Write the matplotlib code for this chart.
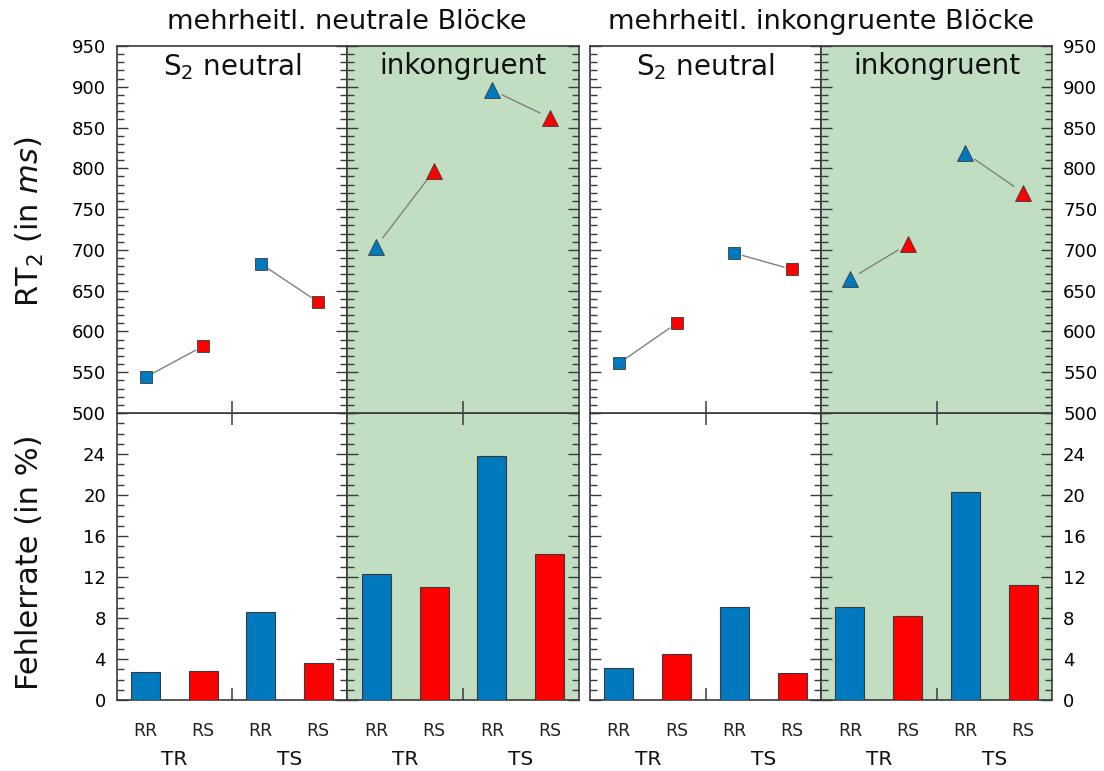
import matplotlib
matplotlib.use("Agg")
import matplotlib.pyplot as plt
from matplotlib.ticker import MultipleLocator

# categories (x order inside each panel)
conditions = ["RR", "RS", "RR", "RS"]
switch_labels = ["TR", "TS"]
block_titles = ["mehrheitl. neutrale Blöcke", "mehrheitl. inkongruente Blöcke"]
panel_titles = ["S$_2$ neutral", "inkongruent"]

# RT2 in ms, order: TR-RR, TR-RS, TS-RR, TS-RS
rt_neutral_neutral = [544, 582, 683, 636]
rt_neutral_incong = [704, 797, 896, 862]
rt_incong_neutral = [561, 610, 696, 676]
rt_incong_incong = [664, 707, 819, 770]

# error rates in %
err_neutral_neutral = [2.7, 2.85, 8.55, 3.6]
err_neutral_incong = [12.3, 11.0, 23.8, 14.2]
err_incong_neutral = [3.1, 4.45, 9.1, 2.6]
err_incong_incong = [9.05, 8.2, 20.3, 11.25]

rt_data = [[rt_neutral_neutral, rt_neutral_incong],
           [rt_incong_neutral, rt_incong_incong]]
err_data = [[err_neutral_neutral, err_neutral_incong],
            [err_incong_neutral, err_incong_incong]]

BLUE = "#0079bf"
RED = "#ff0000"
GREEN = "#c2dec2"
EDGE = "#3a3a3a"
GRAY = "#808080"

fig = plt.figure(figsize=(11.04, 7.71), dpi=100)
W, H = 1104.0, 771.0

# panel edges in pixels
x_edges = [(117, 347), (347, 579), (590, 821), (821, 1052)]
y_top, y_mid, y_bot = 46, 413, 700

xs = [0.5, 1.5, 2.5, 3.5]
colors = [BLUE, RED, BLUE, RED]

for g in range(2):
    for p in range(2):
        x0, x1 = x_edges[2 * g + p]
        face = "white" if p == 0 else GREEN
        marker = "s" if p == 0 else "^"
        msize = 8 if p == 0 else 11
        shrink = 6 if p == 0 else 8

        # RT panel
        ax = fig.add_axes([x0 / W, 1 - y_mid / H, (x1 - x0) / W, (y_mid - y_top) / H],
                          facecolor=face, zorder=3)
        vals = rt_data[g][p]
        for a, b in [(0, 1), (2, 3)]:
            ax.annotate("", xy=(xs[b], vals[b]), xytext=(xs[a], vals[a]),
                        arrowprops=dict(arrowstyle="-", color=GRAY, lw=1.0,
                                        shrinkA=shrink, shrinkB=shrink))
        for x, v, c in zip(xs, vals, colors):
            ax.plot(x, v, marker=marker, ms=msize, color=c, mec=EDGE, mew=0.6,
                    linestyle="none", zorder=4)
        ax.set_xlim(0, 4)
        ax.set_ylim(500, 950)
        ax.yaxis.set_major_locator(MultipleLocator(50))
        ax.yaxis.set_minor_locator(MultipleLocator(10))
        ax.set_xticks([2])
        ax.set_xticklabels([])
        ax.tick_params(axis="x", which="major", direction="inout", length=17,
                       width=1.1, color=EDGE)
        ax.tick_params(axis="y", which="both", direction="in", left=True, right=True,
                       labelleft=(g == 0 and p == 0), labelright=(g == 1 and p == 1),
                       labelsize=13, pad=8, color=EDGE, width=1.0)
        ax.tick_params(axis="y", which="major", length=8)
        ax.tick_params(axis="y", which="minor", length=5)
        for s in ax.spines.values():
            s.set_color(EDGE)
            s.set_linewidth(1.2)
        ax.text(0.5, 0.945, panel_titles[p], transform=ax.transAxes,
                ha="center", va="center", fontsize=20, color="#111111")
        if p == 0:
            ax.text(1.0, 1.03, block_titles[g], transform=ax.transAxes,
                    ha="center", va="bottom", fontsize=19.5, color="#111111")

        # error panel
        ax2 = fig.add_axes([x0 / W, 1 - y_bot / H, (x1 - x0) / W, (y_bot - y_mid) / H],
                           facecolor=face, zorder=2)
        ax2.bar(xs, err_data[g][p], width=0.5, color=colors, edgecolor=EDGE,
                linewidth=0.8, zorder=3)
        ax2.set_xlim(0, 4)
        ax2.set_ylim(0, 28)
        ax2.set_yticks([0, 4, 8, 12, 16, 20, 24])
        ax2.yaxis.set_minor_locator(MultipleLocator(1))
        ax2.set_xticks(xs)
        ax2.set_xticklabels(conditions, fontsize=12.5, color="#222222")
        ax2.set_xticks([2], minor=True)
        ax2.tick_params(axis="x", which="major", length=0, pad=16)
        ax2.tick_params(axis="x", which="minor", direction="in", length=9,
                        width=1.1, color=EDGE)
        ax2.tick_params(axis="y", which="both", direction="in", left=True, right=True,
                        labelleft=(g == 0 and p == 0), labelright=(g == 1 and p == 1),
                        labelsize=13, pad=8, color=EDGE, width=1.0)
        ax2.tick_params(axis="y", which="major", length=8)
        ax2.tick_params(axis="y", which="minor", length=5)
        for s in ax2.spines.values():
            s.set_color(EDGE)
            s.set_linewidth(1.2)
        for k, lab in enumerate(switch_labels):
            ax2.annotate(lab, xy=(1 + 2 * k, 0), xycoords=("data", "axes fraction"),
                         xytext=(0, -43), textcoords="offset points",
                         ha="center", va="center", fontsize=14.5, color="#111111")

fig.text(30 / W, 1 - 222 / H, "RT$_2$ (in $ms$)", rotation=90, ha="center",
         va="center", fontsize=22, color="#111111")
fig.text(30 / W, 1 - 562 / H, "Fehlerrate (in %)", rotation=90, ha="center",
         va="center", fontsize=22, color="#111111")

fig.savefig("out.png", dpi=100)
